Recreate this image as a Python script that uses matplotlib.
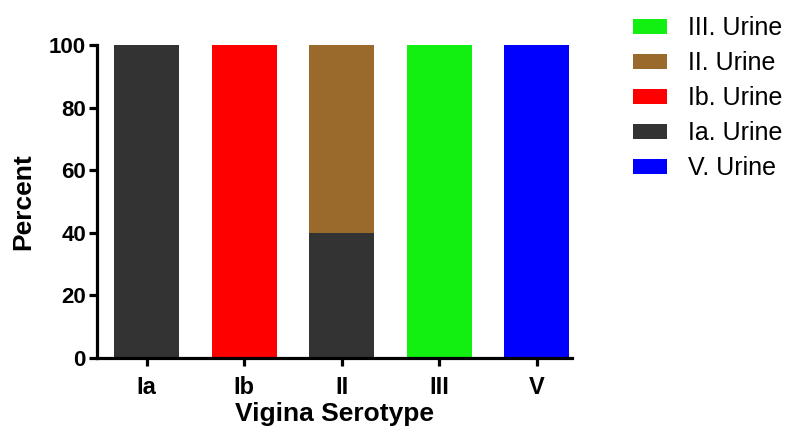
import numpy as np
import matplotlib.pyplot as plt
from matplotlib.patches import Patch

plt.rcParams['font.family'] = ['Liberation Sans', 'DejaVu Sans']

categories = ['Ia', 'Ib', 'II', 'III', 'V']
series_names = ['Ia. Urine', 'Ib. Urine', 'II. Urine', 'III. Urine', 'V. Urine']
series_values = {
    'Ia. Urine': [100, 0, 40, 0, 0],
    'Ib. Urine': [0, 100, 0, 0, 0],
    'II. Urine': [0, 0, 60, 0, 0],
    'III. Urine': [0, 0, 0, 100, 0],
    'V. Urine': [0, 0, 0, 0, 100],
}
colors = {
    'Ia. Urine': '#333333',
    'Ib. Urine': '#ff0000',
    'II. Urine': '#9a6a2c',
    'III. Urine': '#11f011',
    'V. Urine': '#0000ff',
}
legend_order = ['III. Urine', 'II. Urine', 'Ib. Urine', 'Ia. Urine', 'V. Urine']

fig = plt.figure(figsize=(7.92, 4.32), dpi=100)
ax = fig.add_axes([0.1225, 0.171, 0.5995, 0.725])

x = np.arange(len(categories))
bottom = np.zeros(len(categories))
for name in series_names:
    vals = np.array(series_values[name], dtype=float)
    ax.bar(x, vals, width=0.67, bottom=bottom, color=colors[name], edgecolor='none')
    bottom += vals

ax.set_xlim(-0.51, 4.36)
ax.set_ylim(0, 100)
ax.set_yticks([0, 20, 40, 60, 80, 100])
ax.set_xticks(x)
ax.set_xticklabels(categories)

for s in ['top', 'right']:
    ax.spines[s].set_visible(False)
for s in ['left', 'bottom']:
    ax.spines[s].set_linewidth(2.3)
ax.tick_params(axis='both', width=2.3, length=6)
ax.tick_params(axis='y', labelsize=16, pad=2)
ax.tick_params(axis='x', labelsize=17, pad=7)
for lab in ax.get_xticklabels() + ax.get_yticklabels():
    lab.set_fontweight('bold')

ax.set_ylabel('Percent', fontsize=19, fontweight='bold', labelpad=10)
ax.set_xlabel('Vigina Serotype', fontsize=19, fontweight='bold', labelpad=2)

handles = [Patch(facecolor=colors[n], edgecolor='none', label=n) for n in legend_order]
fig.legend(handles=handles, loc='upper left', bbox_to_anchor=(0.799, 0.963),
           frameon=False, fontsize=18, borderaxespad=0, borderpad=0,
           handlelength=1.36, handleheight=0.56, labelspacing=0.44,
           handletextpad=0.85)

fig.savefig('out.png', dpi=100)
